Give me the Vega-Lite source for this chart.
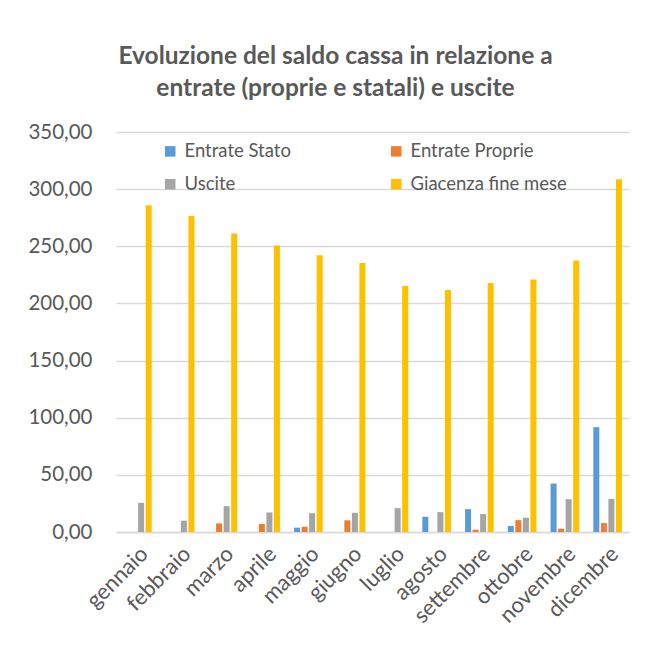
{
  "$schema": "https://vega.github.io/schema/vega-lite/v6.json",
  "width": 513,
  "height": 400,
  "autosize": {"type": "none"},
  "padding": {"left": 116, "top": 132, "right": 18, "bottom": 116},
  "background": "white",
  "config": {"font": "Lato", "view": {"stroke": null}},
  "title": {
    "text": ["Evoluzione del saldo cassa in relazione a", "entrate (proprie e statali) e uscite"],
    "fontSize": 24.5,
    "fontWeight": "bold",
    "color": "#595959",
    "font": "Lato",
    "lineHeight": 32,
    "anchor": "middle",
    "frame": "group",
    "dx": -37,
    "offset": 21
  },
  "data": {
    "values": [
      {"mese": "gennaio", "serie": "Entrate Stato", "valore": 0},
      {"mese": "gennaio", "serie": "Entrate Proprie", "valore": 0},
      {"mese": "gennaio", "serie": "Uscite", "valore": 25.5},
      {"mese": "gennaio", "serie": "Giacenza fine mese", "valore": 285.8},
      {"mese": "febbraio", "serie": "Entrate Stato", "valore": 0},
      {"mese": "febbraio", "serie": "Entrate Proprie", "valore": 0},
      {"mese": "febbraio", "serie": "Uscite", "valore": 9.9},
      {"mese": "febbraio", "serie": "Giacenza fine mese", "valore": 276.4},
      {"mese": "marzo", "serie": "Entrate Stato", "valore": 0},
      {"mese": "marzo", "serie": "Entrate Proprie", "valore": 7.5},
      {"mese": "marzo", "serie": "Uscite", "valore": 22.6},
      {"mese": "marzo", "serie": "Giacenza fine mese", "valore": 261.2},
      {"mese": "aprile", "serie": "Entrate Stato", "valore": 0},
      {"mese": "aprile", "serie": "Entrate Proprie", "valore": 7.0},
      {"mese": "aprile", "serie": "Uscite", "valore": 17.1},
      {"mese": "aprile", "serie": "Giacenza fine mese", "valore": 250.7},
      {"mese": "maggio", "serie": "Entrate Stato", "valore": 3.8},
      {"mese": "maggio", "serie": "Entrate Proprie", "valore": 4.6},
      {"mese": "maggio", "serie": "Uscite", "valore": 16.5},
      {"mese": "maggio", "serie": "Giacenza fine mese", "valore": 242.1},
      {"mese": "giugno", "serie": "Entrate Stato", "valore": 0},
      {"mese": "giugno", "serie": "Entrate Proprie", "valore": 10.2},
      {"mese": "giugno", "serie": "Uscite", "valore": 16.8},
      {"mese": "giugno", "serie": "Giacenza fine mese", "valore": 235.4},
      {"mese": "luglio", "serie": "Entrate Stato", "valore": 0},
      {"mese": "luglio", "serie": "Entrate Proprie", "valore": 0},
      {"mese": "luglio", "serie": "Uscite", "valore": 20.9},
      {"mese": "luglio", "serie": "Giacenza fine mese", "valore": 215.2},
      {"mese": "agosto", "serie": "Entrate Stato", "valore": 13.3},
      {"mese": "agosto", "serie": "Entrate Proprie", "valore": 0},
      {"mese": "agosto", "serie": "Uscite", "valore": 17.4},
      {"mese": "agosto", "serie": "Giacenza fine mese", "valore": 211.7},
      {"mese": "settembre", "serie": "Entrate Stato", "valore": 20.0},
      {"mese": "settembre", "serie": "Entrate Proprie", "valore": 2.0},
      {"mese": "settembre", "serie": "Uscite", "valore": 15.7},
      {"mese": "settembre", "serie": "Giacenza fine mese", "valore": 217.8},
      {"mese": "ottobre", "serie": "Entrate Stato", "valore": 5.2},
      {"mese": "ottobre", "serie": "Entrate Proprie", "valore": 10.4},
      {"mese": "ottobre", "serie": "Uscite", "valore": 12.5},
      {"mese": "ottobre", "serie": "Giacenza fine mese", "valore": 221.0},
      {"mese": "novembre", "serie": "Entrate Stato", "valore": 42.4},
      {"mese": "novembre", "serie": "Entrate Proprie", "valore": 2.9},
      {"mese": "novembre", "serie": "Uscite", "valore": 28.7},
      {"mese": "novembre", "serie": "Giacenza fine mese", "valore": 237.5},
      {"mese": "dicembre", "serie": "Entrate Stato", "valore": 91.7},
      {"mese": "dicembre", "serie": "Entrate Proprie", "valore": 7.8},
      {"mese": "dicembre", "serie": "Uscite", "valore": 29.0},
      {"mese": "dicembre", "serie": "Giacenza fine mese", "valore": 308.7}
    ]
  },
  "mark": {"type": "bar"},
  "encoding": {
    "x": {
      "field": "mese",
      "type": "nominal",
      "sort": ["gennaio", "febbraio", "marzo", "aprile", "maggio", "giugno", "luglio", "agosto", "settembre", "ottobre", "novembre", "dicembre"],
      "scale": {"paddingInner": 0.33, "paddingOuter": 0.165},
      "axis": {
        "title": null,
        "labelAngle": -45,
        "labelFontSize": 22,
        "labelColor": "#595959",
        "domainColor": "#D9D9D9",
        "domainWidth": 1.5,
        "ticks": false,
        "labelPadding": 11
      }
    },
    "xOffset": {
      "field": "serie",
      "type": "nominal",
      "sort": ["Entrate Stato", "Entrate Proprie", "Uscite", "Giacenza fine mese"],
      "scale": {"paddingInner": 0.2}
    },
    "y": {
      "field": "valore",
      "type": "quantitative",
      "scale": {"domain": [0, 350]},
      "axis": {
        "title": null,
        "values": [0, 50, 100, 150, 200, 250, 300, 350],
        "labelExpr": "replace(format(datum.value, '.2f'), '.', ',')",
        "labelFontSize": 20.5,
        "labelColor": "#595959",
        "gridColor": "#D9D9D9",
        "gridWidth": 1.5,
        "domain": false,
        "ticks": false,
        "labelPadding": 24
      }
    },
    "color": {
      "field": "serie",
      "type": "nominal",
      "sort": ["Entrate Stato", "Entrate Proprie", "Uscite", "Giacenza fine mese"],
      "scale": {
        "domain": ["Entrate Stato", "Entrate Proprie", "Uscite", "Giacenza fine mese"],
        "range": ["#5B9BD5", "#ED7D31", "#A5A5A5", "#FFC000"]
      },
      "legend": {
        "orient": "none",
        "direction": "horizontal",
        "legendX": 45,
        "legendY": 10,
        "columns": 2,
        "title": null,
        "symbolType": "square",
        "symbolSize": 110,
        "symbolStrokeWidth": 0,
        "labelFontSize": 18.5,
        "labelColor": "#595959",
        "labelOffset": 5,
        "columnPadding": 96,
        "rowPadding": 14,
        "labelLimit": 300
      }
    }
  }
}
